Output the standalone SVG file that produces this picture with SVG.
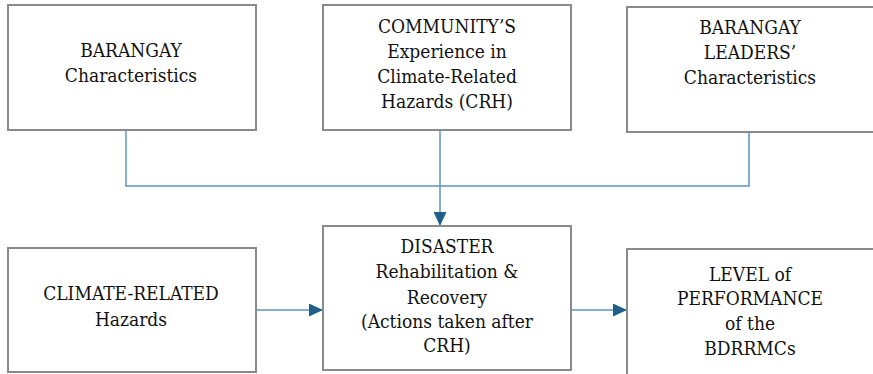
<svg xmlns="http://www.w3.org/2000/svg" width="873" height="374" viewBox="0 0 873 374">
<defs>
<style>
.box{fill:#ffffff;stroke:#8a8a8a;stroke-width:2}
.t{font-family:'DejaVu Serif Condensed','DejaVu Serif',serif;font-stretch:condensed;font-size:19px;fill:#111111;text-anchor:middle}
.c{fill:none;stroke:#5e95ba;stroke-width:1.5}
</style>
<marker id="ah" viewBox="0 0 14 13" refX="14" refY="6.5" markerWidth="14" markerHeight="13" markerUnits="userSpaceOnUse" orient="auto">
<path d="M0,0 L14,6.5 L0,13 Z" fill="#1f5f88"/>
</marker>
</defs>
<rect width="873" height="374" fill="#ffffff"/>
<g id="connectors">
<path class="c" d="M126,130 V186 H749 V132"/>
<path class="c" d="M440,130 V226" marker-end="url(#ah)"/>
<path class="c" d="M256,310 H323" marker-end="url(#ah)"/>
<path class="c" d="M571,310 H627" marker-end="url(#ah)"/>
</g>
<g id="barangay">
<rect class="box" x="8" y="5" width="248" height="125"/>
<text class="t" x="131" y="57">BARANGAY</text>
<text class="t" x="131" y="82">Characteristics</text>
</g>
<g id="community">
<rect class="box" x="323" y="5" width="248" height="125"/>
<text class="t" x="447" y="33">COMMUNITY’S</text>
<text class="t" x="447" y="58">Experience in</text>
<text class="t" x="447" y="83">Climate-Related</text>
<text class="t" x="447" y="108">Hazards (CRH)</text>
</g>
<g id="leaders">
<rect class="box" x="627" y="7" width="248" height="125"/>
<text class="t" x="750" y="34">BARANGAY</text>
<text class="t" x="750" y="59">LEADERS’</text>
<text class="t" x="750" y="84">Characteristics</text>
</g>
<g id="climate">
<rect class="box" x="8" y="248" width="248" height="124"/>
<text class="t" x="131" y="300">CLIMATE-RELATED</text>
<text class="t" x="131" y="326">Hazards</text>
</g>
<g id="disaster">
<rect class="box" x="323" y="226" width="248" height="144"/>
<text class="t" x="447" y="253">DISASTER</text>
<text class="t" x="447" y="278">Rehabilitation &amp;</text>
<text class="t" x="447" y="304">Recovery</text>
<text class="t" x="447" y="328">(Actions taken after</text>
<text class="t" x="447" y="352">CRH)</text>
</g>
<g id="level">
<rect class="box" x="627" y="249" width="248" height="130"/>
<text class="t" x="750" y="281">LEVEL of</text>
<text class="t" x="750" y="305">PERFORMANCE</text>
<text class="t" x="750" y="330">of the</text>
<text class="t" x="750" y="355">BDRRMCs</text>
</g>
</svg>
